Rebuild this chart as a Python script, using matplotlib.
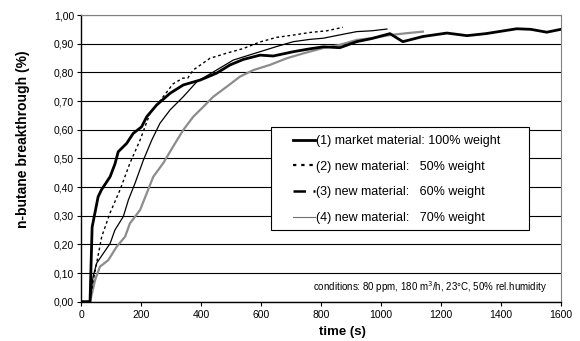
import matplotlib
matplotlib.use("Agg")
import matplotlib.pyplot as plt
from matplotlib.lines import Line2D
from matplotlib.patches import Rectangle
from matplotlib.ticker import FuncFormatter, MultipleLocator

plt.rcParams['font.family'] = ['Liberation Sans', 'DejaVu Sans']

# (1) market material 100% weight
t1 = [0, 30, 37, 57, 68, 97, 113, 124, 152, 174, 202, 219, 252, 297, 341, 397, 452, 497,
      541, 597, 641, 708, 763, 808, 863, 919, 970, 1030, 1073, 1140, 1220, 1287, 1350, 1453,
      1500, 1553, 1600]
y1 = [0, 0, 0.26, 0.366, 0.39, 0.436, 0.48, 0.523, 0.552, 0.587, 0.61, 0.645, 0.686, 0.727,
      0.756, 0.773, 0.797, 0.826, 0.845, 0.86, 0.857, 0.872, 0.882, 0.889, 0.886, 0.907,
      0.918, 0.935, 0.907, 0.925, 0.937, 0.928, 0.935, 0.952, 0.95, 0.94, 0.95]

# (2) new material 50% weight
t2 = [0, 30, 40, 52, 69, 97, 130, 163, 197, 230, 263, 307, 340, 356, 374, 430, 486, 541,
      597, 652, 708, 763, 820, 873]
y2 = [0, 0, 0.07, 0.134, 0.227, 0.31, 0.39, 0.483, 0.564, 0.657, 0.70, 0.76, 0.78, 0.78,
      0.808, 0.849, 0.867, 0.883, 0.906, 0.922, 0.93, 0.939, 0.945, 0.957]

# (3) new material 60% weight
t3 = [0, 30, 40, 52, 74, 97, 113, 141, 158, 180, 208, 236, 263, 297, 341, 386, 452, 508,
      597, 652, 708, 763, 808, 860, 919, 970, 1020]
y3 = [0, 0, 0.086, 0.134, 0.168, 0.203, 0.25, 0.297, 0.355, 0.413, 0.494, 0.564, 0.622,
      0.669, 0.715, 0.767, 0.808, 0.843, 0.872, 0.89, 0.907, 0.915, 0.919, 0.93, 0.942,
      0.945, 0.951]

# (4) new material 70% weight
t4 = [0, 30, 47, 63, 91, 119, 147, 163, 197, 219, 241, 274, 307, 341, 374, 408, 441, 486,
      530, 575, 630, 686, 741, 808, 860, 919, 975, 1030, 1090, 1140]
y4 = [0, 0, 0.076, 0.122, 0.145, 0.192, 0.227, 0.273, 0.32, 0.378, 0.436, 0.483, 0.541,
      0.599, 0.645, 0.68, 0.715, 0.75, 0.785, 0.808, 0.826, 0.849, 0.866, 0.885, 0.895,
      0.913, 0.92, 0.93, 0.937, 0.942]

labels = ["(1) market material: 100% weight",
          "(2) new material:   50% weight",
          "(3) new material:   60% weight",
          "(4) new material:   70% weight"]

fig = plt.figure(figsize=(5.8, 3.41), dpi=100)
ax = fig.add_axes([0.1397, 0.1153, 0.967 - 0.1397, 0.956 - 0.1153])

ax.plot(t1, y1, color="black", lw=2.0, zorder=5)
ax.plot(t2, y2, color="black", lw=1.0, dashes=(2, 2), zorder=4)
ax.plot(t3, y3, color="black", lw=0.9, zorder=3)
ax.plot(t4, y4, color="#8c8c8c", lw=1.6, zorder=2)

ax.set_xlim(0, 1600)
ax.set_ylim(0, 1.0)
ax.xaxis.set_major_locator(MultipleLocator(200))
ax.yaxis.set_major_locator(MultipleLocator(0.1))
ax.yaxis.set_major_formatter(FuncFormatter(lambda v, p: ("%.2f" % v).replace(".", ",")))
ax.grid(axis="y", color="black", lw=0.8)
ax.set_axisbelow(True)
ax.tick_params(direction="out", length=3, width=0.8, labelsize=7.5, colors="black", pad=2)
ax.tick_params(axis="x", pad=3)
for s in ["top", "right"]:
    ax.spines[s].set_color("#808080")
    ax.spines[s].set_linewidth(0.8)
ax.spines["left"].set_linewidth(1.0)
ax.spines["bottom"].set_linewidth(1.0)

ax.set_xlabel("time (s)", fontsize=9.5, fontweight="bold")
ax.set_ylabel("n-butane breakthrough (%)", fontsize=10, fontweight="bold")
ax.xaxis.set_label_coords(0.544, -0.085)
ax.yaxis.set_label_coords(-0.106, 0.567)

ax.text(0.971, 0.051, "conditions: 80 ppm, 180 m$^3$/h, 23°C, 50% rel.humidity",
        transform=ax.transAxes, ha="right", va="center", fontsize=7)

# legend box
box = Rectangle((271 / 580, 1 - 230 / 341), 258 / 580, 103 / 341, transform=fig.transFigure,
                facecolor="white", edgecolor="black", lw=0.8, zorder=8, clip_on=False)
ax.add_patch(box)

handles = [Line2D([], [], color="black", lw=2.0),
           Line2D([], [], color="black", lw=1.6, dashes=(1.5, 2.2)),
           Line2D([], [], color="black", lw=1.8, dashes=(5, 3)),
           Line2D([], [], color="#707070", lw=0.8)]
leg = ax.legend(handles, labels, loc="upper left", bbox_to_anchor=(293 / 580, 1 - 135 / 341),
                bbox_transform=fig.transFigure, borderaxespad=0, borderpad=0, fontsize=9,
                frameon=False, handlelength=1.76, handletextpad=0.1, labelspacing=1.1)
leg.set_zorder(10)

fig.savefig("out.png", dpi=100)
